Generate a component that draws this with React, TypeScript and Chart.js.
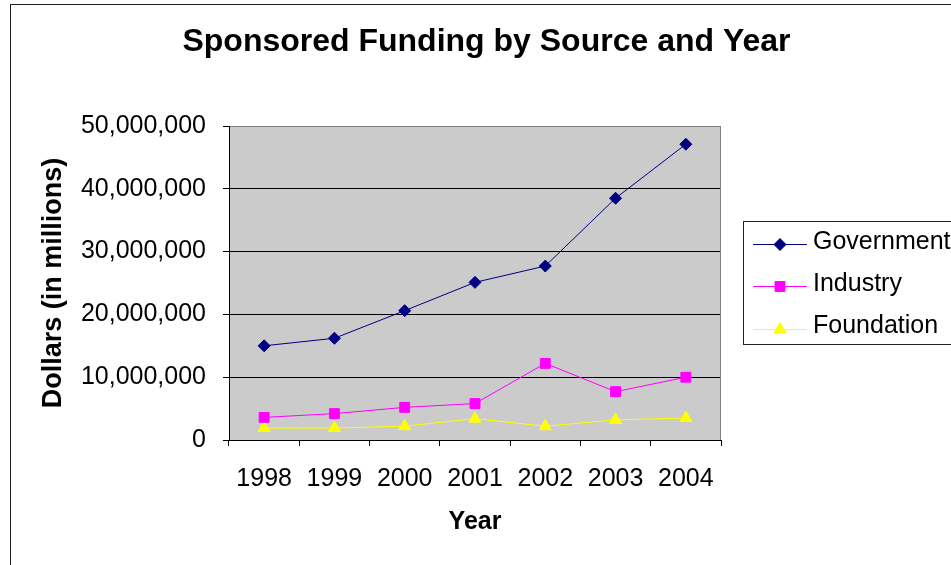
import React, { useEffect, useRef } from 'react';
import { Chart, registerables } from 'chart.js';

Chart.register(...registerables);

const years = ['1998', '1999', '2000', '2001', '2002', '2003', '2004'];
const government = [15000000, 16200000, 20600000, 25100000, 27700000, 38500000, 47100000];
const industry = [3600000, 4200000, 5200000, 5800000, 12200000, 7700000, 10000000];
const foundation = [1900000, 1900000, 2200000, 3400000, 2200000, 3200000, 3500000];
const seriesNames = ['Government', 'Industry', 'Foundation'];
const seriesColors = ['#000080', '#FF00FF', '#FFFF00'];
const seriesMarkers = ['rectRot', 'rect', 'triangle'];
const seriesRadii = [6, 7, 7];
const titleText = 'Sponsored Funding by Source and Year';
const yTitle = 'Dollars (in millions)';
const xTitle = 'Year';
const yMax = 50000000;
const yStep = 10000000;

const FONT = "'Liberation Sans', Arial, Helvetica, sans-serif";

function drawMarker(ctx: CanvasRenderingContext2D, style: string, x: number, y: number, r: number, color: string) {
  ctx.save();
  ctx.fillStyle = color;
  ctx.strokeStyle = color;
  ctx.lineWidth = 1;
  ctx.beginPath();
  if (style === 'rectRot') {
    ctx.moveTo(x, y - r);
    ctx.lineTo(x + r, y);
    ctx.lineTo(x, y + r);
    ctx.lineTo(x - r, y);
  } else if (style === 'rect') {
    const s = Math.SQRT1_2 * r;
    ctx.rect(x - s, y - s, 2 * s, 2 * s);
  } else {
    const w = r * Math.sin(Math.PI / 3);
    ctx.moveTo(x, y - r);
    ctx.lineTo(x + w, y + r / 2);
    ctx.lineTo(x - w, y + r / 2);
  }
  ctx.closePath();
  ctx.fill();
  ctx.stroke();
  ctx.restore();
}

export default function App() {
  const ref = useRef<HTMLCanvasElement>(null);

  useEffect(() => {
    if (!ref.current) return;

    const deco = {
      id: 'deco',
      beforeDraw(chart: any) {
        const { ctx, chartArea: a, width, height } = chart;
        ctx.save();
        ctx.fillStyle = '#ffffff';
        ctx.fillRect(0, 0, width, height);
        ctx.fillStyle = '#CBCBCB';
        ctx.fillRect(a.left, a.top, a.right - a.left, a.bottom - a.top);
        ctx.strokeStyle = '#202020';
        ctx.lineWidth = 1;
        ctx.strokeRect(10.5, 4.5, width + 40, height + 40);
        ctx.fillStyle = '#000';
        ctx.font = `bold 32px ${FONT}`;
        ctx.textAlign = 'center';
        ctx.textBaseline = 'middle';
        ctx.fillText(titleText, 486.5, 42);
        ctx.restore();
      },
      beforeDatasetsDraw(chart: any) {
        const { ctx, chartArea: a } = chart;
        ctx.save();
        ctx.strokeStyle = '#808080';
        ctx.lineWidth = 1;
        ctx.beginPath();
        ctx.moveTo(Math.round(a.right) - 0.5, a.top);
        ctx.lineTo(Math.round(a.right) - 0.5, a.bottom);
        ctx.stroke();
        ctx.restore();
      },
      afterDraw(chart: any) {
        const { ctx } = chart;
        ctx.save();
        ctx.strokeStyle = '#202020';
        ctx.lineWidth = 1;
        ctx.strokeRect(743.5, 221.5, 300, 123);
        chart.data.datasets.forEach((ds: any, i: number) => {
          const y = 244 + i * 42.3;
          ctx.strokeStyle = ds.borderColor;
          ctx.lineWidth = 1;
          ctx.beginPath();
          ctx.moveTo(753, Math.round(y) + 0.5);
          ctx.lineTo(807, Math.round(y) + 0.5);
          ctx.stroke();
          drawMarker(ctx, ds.pointStyle, 780, Math.round(y) + 0.5, ds.pointRadius, ds.backgroundColor);
          ctx.fillStyle = '#000';
          ctx.font = `25px ${FONT}`;
          ctx.textAlign = 'left';
          ctx.textBaseline = 'middle';
          ctx.fillText(ds.label, 813, y - 2);
        });
        ctx.restore();
      },
    };

    const seriesData = [government, industry, foundation];
    const chart = new Chart(ref.current, {
      type: 'line',
      data: {
        labels: years,
        datasets: seriesData.map((d, i) => ({
          label: seriesNames[i],
          data: d,
          borderColor: seriesColors[i],
          backgroundColor: seriesColors[i],
          borderWidth: 1,
          pointStyle: seriesMarkers[i] as any,
          pointRadius: seriesRadii[i],
          pointBorderWidth: 1,
          pointBorderColor: seriesColors[i],
          pointBackgroundColor: seriesColors[i],
          tension: 0,
        })),
      },
      options: {
        responsive: false,
        animation: false,
        devicePixelRatio: 1,
        layout: { padding: { left: 37, top: 126, right: 230, bottom: 0 } },
        plugins: {
          legend: { display: false },
          title: { display: false },
          tooltip: { enabled: false },
        },
        scales: {
          x: {
            type: 'category',
            offset: true,
            grid: {
              offset: true,
              drawOnChartArea: false,
              drawTicks: true,
              tickLength: 6,
              tickColor: '#000',
            },
            border: { display: true, color: '#000', width: 1 },
            ticks: {
              color: '#000',
              font: { family: FONT, size: 25 },
              padding: 18,
              maxRotation: 0,
            },
            title: {
              display: true,
              text: xTitle,
              color: '#000',
              font: { family: FONT, size: 25, weight: 'bold' },
              padding: { top: 0, bottom: 28 },
            },
            afterFit(scale: any) {
              scale.height = 125;
            },
          },
          y: {
            min: 0,
            max: yMax,
            grid: {
              color: (c: any) => (c.tick && c.tick.value === yMax ? '#808080' : '#000'),
              tickColor: '#000',
              tickLength: 6,
              lineWidth: 1,
            },
            border: { display: true, color: '#000', width: 1 },
            ticks: {
              stepSize: yStep,
              color: '#000',
              font: { family: FONT, size: 25 },
              padding: 17,
              callback: (v: any) => Number(v).toLocaleString('en-US'),
            },
            title: {
              display: true,
              text: yTitle,
              color: '#000',
              font: { family: FONT, size: 27, weight: 'bold' },
              padding: { top: 0, bottom: 0 },
            },
            afterFit(scale: any) {
              scale.width = 192;
            },
          },
        },
      },
      plugins: [deco],
    });

    return () => chart.destroy();
  }, []);

  return (
    <div style={{ position: 'absolute', left: 0, top: 0, width: 951, height: 565 }}>
      <canvas ref={ref} width={951} height={565} style={{ display: 'block' }} />
    </div>
  );
}
